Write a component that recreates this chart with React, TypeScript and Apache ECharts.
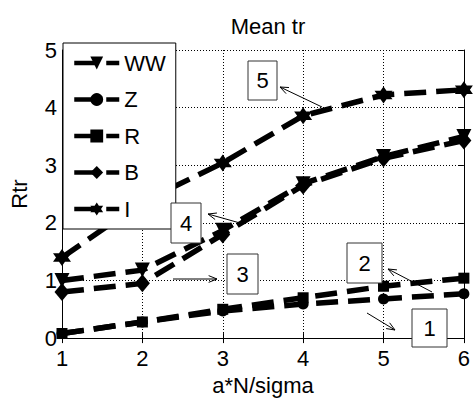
import React, { useEffect, useRef } from "react";
import * as echarts from "echarts";

const xValues = [1, 2, 3, 4, 5, 6];
const wwValues = [1.0, 1.18, 1.87, 2.68, 3.15, 3.5];
const zValues = [0.08, 0.28, 0.47, 0.59, 0.68, 0.77];
const rValues = [0.08, 0.28, 0.5, 0.7, 0.9, 1.04];
const bValues = [0.8, 0.95, 1.8, 2.65, 3.12, 3.43];
const iValues = [1.4, 2.36, 3.04, 3.86, 4.22, 4.31];

const titleText = "Mean tr";
const xName = "a*N/sigma";
const yName = "Rtr";

// annotation labels (text boxes with arrows)
const annotLabels = ["1", "2", "3", "4", "5"];

const FONT = "'Liberation Sans', Arial, Helvetica, sans-serif";

const TRI_DOWN = "path://M0,0 L20,0 L10,20 Z";
const HEXAGRAM =
  "path://M100,0 L128.9,50 L186.6,50 L157.7,100 L186.6,150 L128.9,150 L100,200 L71.1,150 L13.4,150 L42.3,100 L13.4,50 L71.1,50 Z";

function arrow(x1: number, y1: number, x2: number, y2: number) {
  const ang = Math.atan2(y2 - y1, x2 - x1);
  const len = 9;
  const spread = (22 * Math.PI) / 180;
  const a1 = ang + Math.PI - spread;
  const a2 = ang + Math.PI + spread;
  const style = { stroke: "#000", lineWidth: 1, fill: "none" };
  return [
    { type: "line", shape: { x1, y1, x2, y2 }, style, z: 100 },
    {
      type: "polyline",
      shape: {
        points: [
          [x2 + len * Math.cos(a1), y2 + len * Math.sin(a1)],
          [x2, y2],
          [x2 + len * Math.cos(a2), y2 + len * Math.sin(a2)],
        ],
      },
      style,
      z: 100,
    },
  ];
}

function textBox(label: string, x: number, y: number, w: number, h: number) {
  return [
    {
      type: "rect",
      shape: { x, y, width: w, height: h },
      style: { fill: "#fff", stroke: "#333", lineWidth: 1 },
      z: 100,
    },
    {
      type: "text",
      x: x + w / 2,
      y: y + h / 2,
      style: {
        text: label,
        fontSize: 22,
        fontFamily: FONT,
        fill: "#000",
        align: "center",
        verticalAlign: "middle",
      },
      z: 101,
    },
  ];
}

export default function App() {
  const ref = useRef<HTMLDivElement>(null);
  useEffect(() => {
    if (!ref.current) return;
    const chart = echarts.init(ref.current, null, { renderer: "svg" });
    const lineStyle = { color: "#000", width: 5.5, type: [22, 10] as any };
    const mk = (name: string, vals: number[], symbol: string, size: any) => ({
      name,
      type: "line",
      data: xValues.map((x, i) => [x, vals[i]]),
      symbol,
      symbolSize: size,
      showSymbol: true,
      itemStyle: { color: "#000" },
      lineStyle,
      z: 3,
    });
    const axisCommon = {
      type: "value",
      axisLine: { show: true, lineStyle: { color: "#000", width: 1 } },
      axisTick: { show: true, inside: true, length: 5, lineStyle: { color: "#000" } },
    };
    chart.setOption({
      animation: false,
      backgroundColor: "#fff",
      title: {
        text: titleText,
        left: 263,
        textAlign: "center",
        top: 10,
        textStyle: { fontSize: 22, fontWeight: "normal", fontFamily: FONT, color: "#000" },
      },
      grid: { left: 59, top: 50, width: 407, height: 296, containLabel: false },
      legend: {
        orient: "vertical",
        left: 63,
        top: 43,
        padding: [9, 10, 9, 9],
        itemGap: 14.5,
        itemWidth: 45,
        itemHeight: 16,
        borderColor: "#000",
        borderWidth: 1,
        backgroundColor: "#fff",
        borderRadius: 0,
        lineStyle: { width: 4.5, type: [22, 10] as any, color: "#000" },
        textStyle: { fontSize: 22, color: "#000", fontFamily: FONT },
        z: 10,
      },
      xAxis: [
        {
          ...axisCommon,
          min: 1,
          max: 6,
          interval: 1,
          name: xName,
          nameLocation: "middle",
          nameGap: 31,
          nameTextStyle: { fontSize: 22, fontFamily: FONT, color: "#000" },
          axisLabel: { fontSize: 22, fontFamily: FONT, color: "#000", margin: 9 },
          splitLine: { show: true, lineStyle: { color: "#000", type: [1, 2], width: 1 } },
        },
        {
          ...axisCommon,
          position: "top",
          min: 1,
          max: 6,
          interval: 1,
          axisLabel: { show: false },
          splitLine: { show: false },
        },
      ],
      yAxis: [
        {
          ...axisCommon,
          min: 0,
          max: 5,
          interval: 1,
          name: yName,
          nameLocation: "middle",
          nameGap: 32,
          nameTextStyle: { fontSize: 22, fontFamily: FONT, color: "#000" },
          axisLabel: { fontSize: 22, fontFamily: FONT, color: "#000", margin: 5 },
          splitLine: { show: true, lineStyle: { color: "#000", type: [1, 2], width: 1 } },
        },
        {
          ...axisCommon,
          position: "right",
          min: 0,
          max: 5,
          interval: 1,
          axisLabel: { show: false },
          splitLine: { show: false },
        },
      ],
      series: [
        mk("WW", wwValues, TRI_DOWN, 15),
        mk("Z", zValues, "circle", 11),
        mk("R", rValues, "rect", 11),
        mk("B", bValues, "diamond", [15, 18]),
        mk("I", iValues, HEXAGRAM, [18, 17]),
      ],
      graphic: [
        ...textBox(annotLabels[4], 248, 61, 29, 39),
        ...arrow(322, 107, 280, 87),
        ...textBox(annotLabels[3], 171, 203, 30, 40),
        ...arrow(240, 223, 208, 214),
        ...textBox(annotLabels[2], 227, 254, 31, 40),
        ...arrow(173, 279, 217, 279),
        ...textBox(annotLabels[1], 347, 243, 35, 40),
        ...arrow(432, 292, 388, 269),
        ...textBox(annotLabels[0], 412, 309, 35, 38),
        ...arrow(367, 313, 395, 330),
      ],
    });
    return () => chart.dispose();
  }, []);
  return (
    <div
      ref={ref}
      style={{ position: "fixed", left: 0, top: 0, width: 473, height: 401, background: "#fff" }}
    />
  );
}
